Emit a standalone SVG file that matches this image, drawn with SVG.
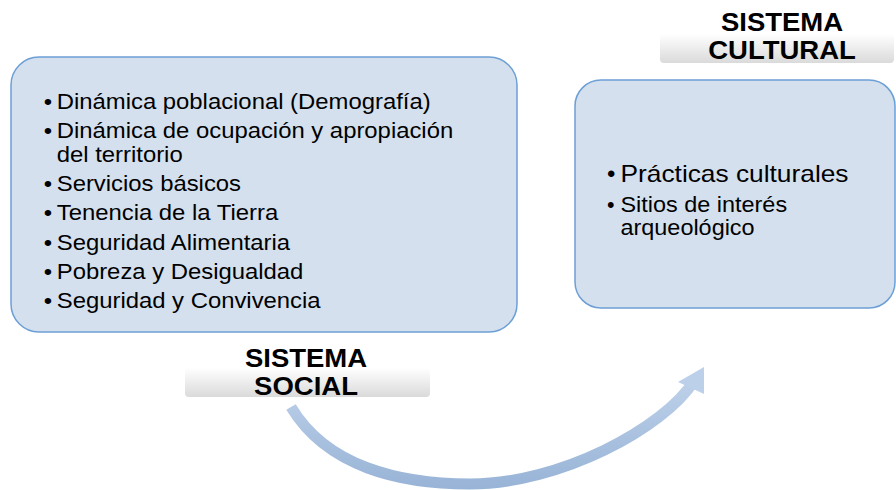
<svg xmlns="http://www.w3.org/2000/svg" width="896" height="490" viewBox="0 0 896 490">
  <defs>
    <linearGradient id="barGrad" x1="0" y1="0" x2="0" y2="1">
      <stop offset="0" stop-color="#ffffff"/>
      <stop offset="0.45" stop-color="#ffffff"/>
      <stop offset="1" stop-color="#dadada"/>
    </linearGradient>
    <linearGradient id="arrowGrad" gradientUnits="userSpaceOnUse" x1="0" y1="365" x2="0" y2="490">
      <stop offset="0" stop-color="#c3d5ec"/>
      <stop offset="1" stop-color="#97b3d6"/>
    </linearGradient>
  </defs>
  <style>
    .box { fill: #d5e0ee; stroke: #6c9fd6; stroke-width: 1.5; }
    .bar { fill: url(#barGrad); }
    .title { font-family: "Liberation Sans", Arial, sans-serif; font-weight: bold; font-size: 25px; fill: #000; text-anchor: middle; }
    .item { font-family: "Liberation Sans", Arial, sans-serif; font-size: 22px; fill: #000; }
  </style>
  <rect width="896" height="490" fill="#ffffff"/>

  <g id="connectors">
    <path d="M291,407 C327,467 400,484 470,484 C560,484 664,428 694,381" fill="none" stroke="url(#arrowGrad)" stroke-width="11"/>
    <polygon points="678,382 704,367 704,394" fill="#bdd0ea"/>
  </g>

  <g id="sistema-social">
    <rect class="box" x="11" y="57" width="506" height="275" rx="28" ry="28"/>
    <g transform="scale(1.085,1)">
      <text class="item" x="40.3" y="109">•</text>
      <text class="item" x="52.3" y="109">Dinámica poblacional (Demografía)</text>
      <text class="item" x="40.3" y="138">•</text>
      <text class="item" x="52.3" y="138">Dinámica de ocupación y apropiación<tspan x="52.3" y="162.5">del territorio</tspan></text>
      <text class="item" x="40.3" y="191.5">•</text>
      <text class="item" x="52.3" y="191.5">Servicios básicos</text>
      <text class="item" x="40.3" y="220.5">•</text>
      <text class="item" x="52.3" y="220.5">Tenencia de la Tierra</text>
      <text class="item" x="40.3" y="250">•</text>
      <text class="item" x="52.3" y="250">Seguridad Alimentaria</text>
      <text class="item" x="40.3" y="279">•</text>
      <text class="item" x="52.3" y="279">Pobreza y Desigualdad</text>
      <text class="item" x="40.3" y="308">•</text>
      <text class="item" x="52.3" y="308">Seguridad y Convivencia</text>
    </g>
  </g>

  <g id="label-social">
    <rect class="bar" x="185" y="344" width="245" height="53" rx="4" ry="4"/>
    <text class="title" transform="translate(306,0) scale(1.1,1)" x="0" y="367">SISTEMA<tspan x="0" y="395">SOCIAL</tspan></text>
  </g>

  <g id="sistema-cultural">
    <rect class="box" x="575" y="80" width="320" height="228" rx="26" ry="26"/>
    <text class="item" x="607" y="182" style="font-size:24px">•</text>
    <text class="item" x="620.5" y="182" style="font-size:24px" textLength="228" lengthAdjust="spacingAndGlyphs">Prácticas culturales</text>
    <text class="item" x="607" y="212" style="font-size:21.5px">•</text>
    <text class="item" transform="translate(620.5,0) scale(1.09,1)" x="0" y="212" style="font-size:21.5px">Sitios de interés<tspan x="0" y="235">arqueológico</tspan></text>
  </g>

  <g id="label-cultural">
    <rect class="bar" x="660" y="10" width="234" height="53" rx="4" ry="4"/>
    <text class="title" transform="translate(782,0) scale(1.1,1)" x="0" y="31">SISTEMA<tspan x="0" y="59">CULTURAL</tspan></text>
  </g>
</svg>
